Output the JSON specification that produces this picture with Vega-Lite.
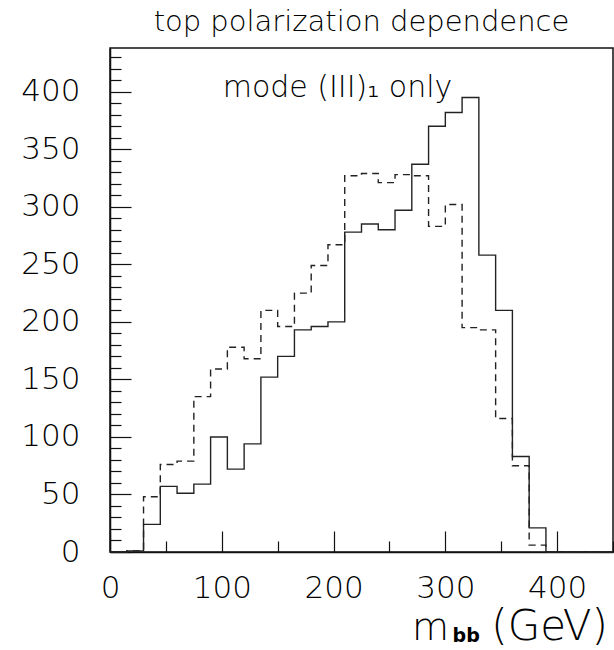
{
  "$schema": "https://vega.github.io/schema/vega-lite/v6.json",
  "width": 503,
  "height": 504,
  "autosize": "none",
  "padding": {"left": 110, "top": 48, "right": 1, "bottom": 98},
  "background": "white",
  "config": {"view": {"stroke": "#111", "strokeWidth": 1.5}, "font": "DejaVu Sans"},
  "datasets": {
    "hist": [
      {"m": 0, "n": 0, "series": "solid"},
      {"m": 15, "n": 1, "series": "solid"},
      {"m": 30, "n": 24, "series": "solid"},
      {"m": 45, "n": 57, "series": "solid"},
      {"m": 60, "n": 51, "series": "solid"},
      {"m": 75, "n": 59, "series": "solid"},
      {"m": 90, "n": 100, "series": "solid"},
      {"m": 105, "n": 72, "series": "solid"},
      {"m": 120, "n": 94, "series": "solid"},
      {"m": 135, "n": 152, "series": "solid"},
      {"m": 150, "n": 170, "series": "solid"},
      {"m": 165, "n": 193, "series": "solid"},
      {"m": 180, "n": 196, "series": "solid"},
      {"m": 195, "n": 200, "series": "solid"},
      {"m": 210, "n": 278, "series": "solid"},
      {"m": 225, "n": 285, "series": "solid"},
      {"m": 240, "n": 280, "series": "solid"},
      {"m": 255, "n": 297, "series": "solid"},
      {"m": 270, "n": 337, "series": "solid"},
      {"m": 285, "n": 370, "series": "solid"},
      {"m": 300, "n": 382, "series": "solid"},
      {"m": 315, "n": 395, "series": "solid"},
      {"m": 330, "n": 258, "series": "solid"},
      {"m": 345, "n": 210, "series": "solid"},
      {"m": 360, "n": 83, "series": "solid"},
      {"m": 375, "n": 21, "series": "solid"},
      {"m": 390, "n": 0, "series": "solid"},
      {"m": 405, "n": 0, "series": "solid"},
      {"m": 420, "n": 0, "series": "solid"},
      {"m": 435, "n": 0, "series": "solid"},
      {"m": 450, "n": 0, "series": "solid"},
      {"m": 0, "n": 0, "series": "dashed"},
      {"m": 15, "n": 1, "series": "dashed"},
      {"m": 30, "n": 48, "series": "dashed"},
      {"m": 45, "n": 76, "series": "dashed"},
      {"m": 60, "n": 79, "series": "dashed"},
      {"m": 75, "n": 135, "series": "dashed"},
      {"m": 90, "n": 159, "series": "dashed"},
      {"m": 105, "n": 178, "series": "dashed"},
      {"m": 120, "n": 168, "series": "dashed"},
      {"m": 135, "n": 210, "series": "dashed"},
      {"m": 150, "n": 196, "series": "dashed"},
      {"m": 165, "n": 225, "series": "dashed"},
      {"m": 180, "n": 249, "series": "dashed"},
      {"m": 195, "n": 267, "series": "dashed"},
      {"m": 210, "n": 327, "series": "dashed"},
      {"m": 225, "n": 329, "series": "dashed"},
      {"m": 240, "n": 321, "series": "dashed"},
      {"m": 255, "n": 328, "series": "dashed"},
      {"m": 270, "n": 327, "series": "dashed"},
      {"m": 285, "n": 283, "series": "dashed"},
      {"m": 300, "n": 302, "series": "dashed"},
      {"m": 315, "n": 195, "series": "dashed"},
      {"m": 330, "n": 193, "series": "dashed"},
      {"m": 345, "n": 116, "series": "dashed"},
      {"m": 360, "n": 75, "series": "dashed"},
      {"m": 375, "n": 6, "series": "dashed"},
      {"m": 390, "n": 0, "series": "dashed"},
      {"m": 405, "n": 0, "series": "dashed"},
      {"m": 420, "n": 0, "series": "dashed"},
      {"m": 435, "n": 0, "series": "dashed"},
      {"m": 450, "n": 0, "series": "dashed"}
    ]
  },
  "encoding": {
    "x": {
      "field": "m", "type": "quantitative",
      "scale": {"domain": [0, 450], "nice": false, "zero": false},
      "axis": {
        "values": [0, 50, 100, 150, 200, 250, 300, 350, 400, 450],
        "labelExpr": "datum.value % 100 === 0 ? datum.label : ''",
        "tickSize": {"condition": {"test": "datum.value % 100 === 0", "value": -21}, "value": -11},
        "labelPadding": 42,
        "labelFontSize": 31, "labelFont": "DejaVu Sans", "labelFontWeight": 200, "labelColor": "#000",
        "labelFlush": false, "labelOverlap": false,
        "tickColor": "#111", "tickWidth": 1.2,
        "domainColor": "#111", "domainWidth": 1.5,
        "grid": false, "title": null
      }
    },
    "y": {
      "field": "n", "type": "quantitative",
      "scale": {"domain": [0, 438], "nice": false},
      "axis": {
        "values": [0, 10, 20, 30, 40, 50, 60, 70, 80, 90, 100, 110, 120, 130, 140, 150, 160, 170, 180, 190, 200, 210, 220, 230, 240, 250, 260, 270, 280, 290, 300, 310, 320, 330, 340, 350, 360, 370, 380, 390, 400, 410, 420, 430],
        "labelExpr": "datum.value % 50 === 0 ? datum.label : ''",
        "tickSize": {"condition": {"test": "datum.value % 50 === 0", "value": -21}, "value": -11},
        "labelPadding": 51,
        "labelFontSize": 31, "labelFont": "DejaVu Sans", "labelFontWeight": 200, "labelColor": "#000",
        "labelFlush": false, "labelOverlap": false,
        "tickColor": "#111", "tickWidth": 1.2,
        "domainColor": "#111", "domainWidth": 1.5,
        "grid": false, "title": null
      }
    }
  },
  "layer": [
    {
      "data": {"name": "hist"},
      "mark": {"type": "line", "interpolate": "step-after", "color": "#222", "strokeWidth": 1.4},
      "encoding": {
        "strokeDash": {
          "field": "series", "type": "nominal",
          "scale": {"domain": ["solid", "dashed"], "range": [[1, 0], [7, 5]]},
          "legend": null
        }
      }
    },
    {
      "data": {"values": [{"m": 225, "n": 452.5, "t": "top polarization dependence"}]},
      "mark": {"type": "text", "font": "DejaVu Sans", "fontSize": 29, "fontWeight": 200, "align": "center", "baseline": "alphabetic", "color": "#000"},
      "encoding": {"text": {"field": "t"}}
    },
    {
      "data": {"values": [{"m": 203.5, "n": 395, "t": "mode (III)₁ only"}]},
      "mark": {"type": "text", "font": "DejaVu Sans", "fontSize": 30, "fontWeight": 200, "align": "center", "baseline": "alphabetic", "color": "#000"},
      "encoding": {"text": {"field": "t"}}
    },
    {
      "data": {"values": [{"m": 270.2, "n": -76.7, "t": "m"}]},
      "mark": {"type": "text", "font": "DejaVu Sans", "fontSize": 38, "fontWeight": 200, "align": "left", "baseline": "alphabetic", "color": "#000"},
      "encoding": {"text": {"field": "t"}}
    },
    {
      "data": {"values": [{"m": 306.5, "n": -78.5, "t": "bb"}]},
      "mark": {"type": "text", "font": "DejaVu Sans", "fontSize": 19, "fontWeight": "bold", "align": "left", "baseline": "alphabetic", "color": "#000"},
      "encoding": {"text": {"field": "t"}}
    },
    {
      "data": {"values": [{"m": 445.5, "n": -76.7, "t": "(GeV)"}]},
      "mark": {"type": "text", "font": "DejaVu Sans", "fontSize": 42, "fontWeight": 200, "align": "right", "baseline": "alphabetic", "color": "#000"},
      "encoding": {"text": {"field": "t"}}
    }
  ]
}
